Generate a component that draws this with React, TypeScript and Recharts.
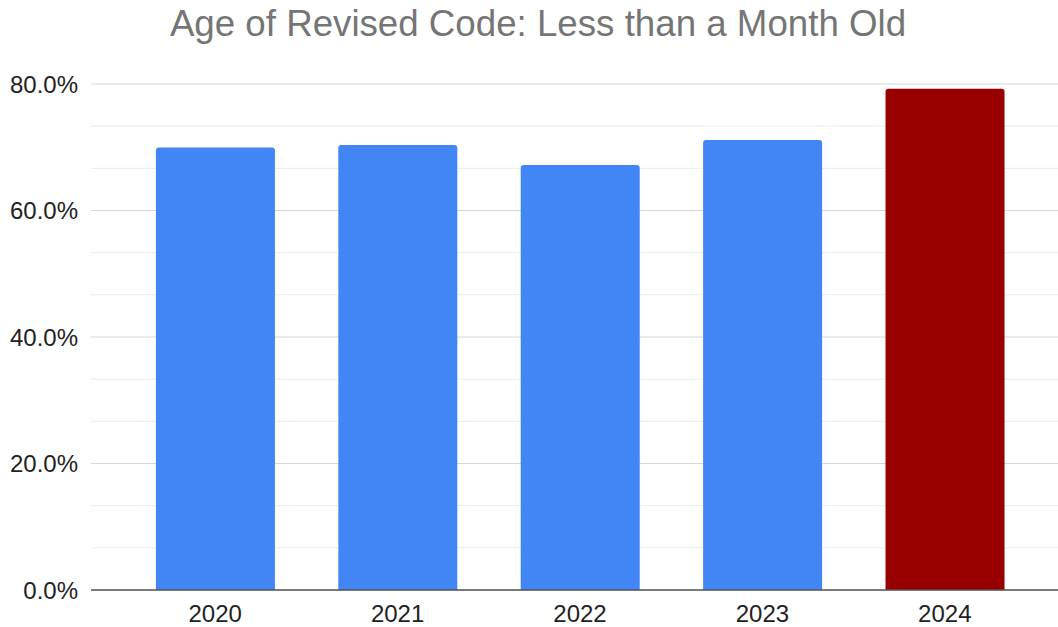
import { BarChart, Bar, XAxis, YAxis, CartesianGrid, Cell } from "recharts";

const years = ["2020", "2021", "2022", "2023", "2024"];
const shares = [69.97, 70.36, 67.2, 71.15, 79.26];
const barColors = ["#4285f4", "#4285f4", "#4285f4", "#4285f4", "#980000"];
const yTicks = [0, 20, 40, 60, 80];
const minorLines = [6.667, 13.333, 26.667, 33.333, 46.667, 53.333, 66.667, 73.333];

const data = years.map((year, i) => ({ year, share: shares[i] }));

const font = "'Liberation Sans', Arial, sans-serif";

export default function App() {
  return (
    <div style={{ position: "absolute", left: 0, top: 0, width: 1058, height: 627, background: "#fff" }}>
      <div
        style={{
          position: "absolute",
          top: 3,
          left: 0,
          width: 1076,
          textAlign: "center",
          fontFamily: font,
          fontSize: 36.7,
          color: "#757575",
          whiteSpace: "nowrap",
        }}
      >
        Age of Revised Code: Less than a Month Old
      </div>
      <BarChart
        width={1058}
        height={627}
        data={data}
        margin={{ top: 84, right: 0, bottom: 0, left: 0 }}
        barCategoryGap="17.5%"
      >
        <CartesianGrid
          vertical={false}
          horizontalValues={minorLines}
          stroke="#ebebeb"
          strokeWidth={1}
        />
        <CartesianGrid vertical={false} horizontalValues={yTicks} stroke="#d6d6d6" strokeWidth={1} />
        <XAxis
          dataKey="year"
          height={37}
          padding={{ left: 33, right: 22 }}
          axisLine={{ stroke: "#555", strokeWidth: 1.5 }}
          tickLine={false}
          tick={{ fontSize: 24, fill: "#222", fontFamily: font }}
          tickMargin={9}
        />
        <YAxis
          width={91}
          domain={[0, 80]}
          ticks={yTicks}
          axisLine={false}
          tickLine={false}
          tickMargin={7}
          tickFormatter={(v: number) => v.toFixed(1) + "%"}
          tick={{ fontSize: 24, fill: "#222", fontFamily: font }}
        />
        <Bar dataKey="share" radius={[3, 3, 0, 0]} isAnimationActive={false}>
          {data.map((d, i) => (
            <Cell key={d.year} fill={barColors[i]} />
          ))}
        </Bar>
      </BarChart>
    </div>
  );
}
